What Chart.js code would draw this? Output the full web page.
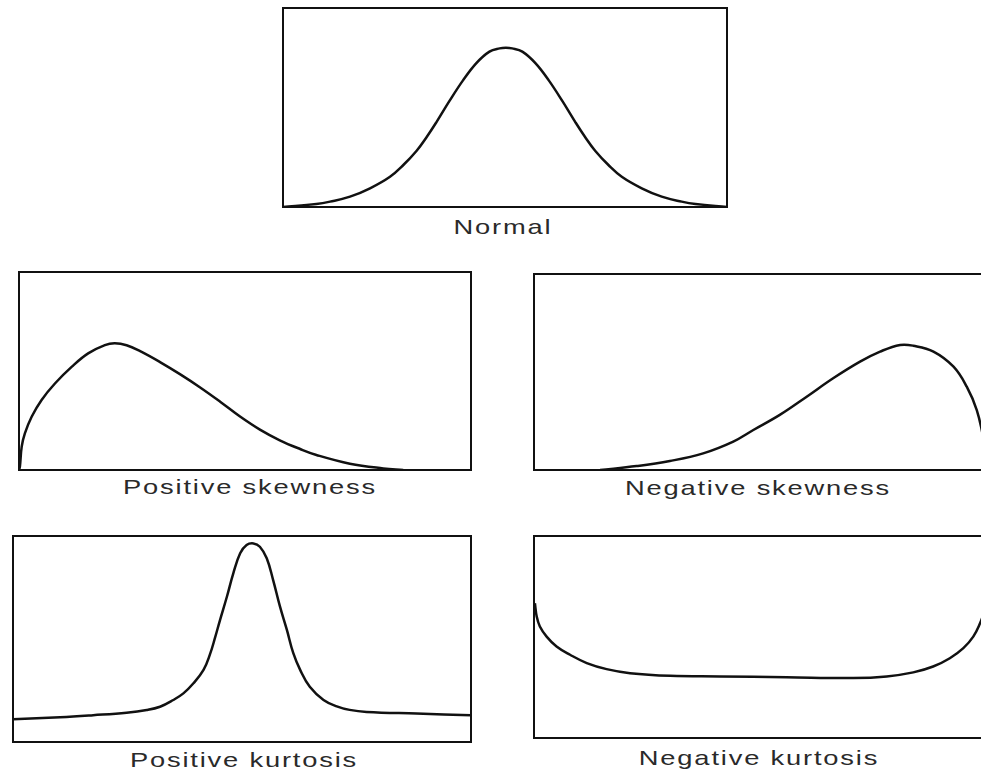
<!DOCTYPE html>
<html>
<head>
<meta charset="utf-8">
<script src="https://cdn.jsdelivr.net/npm/chart.js@4/dist/chart.umd.min.js"></script>
<style>
  html, body { margin: 0; padding: 0; background: #fff; overflow: hidden; width: 981px; height: 771px; }
  .panel { position: absolute; }
  .label {
    position: absolute; font-family: "Liberation Sans", Arial, sans-serif; font-size: 21px;
    letter-spacing: 1.4px; color: #2a2a2a; white-space: nowrap;
    transform: translate(-50%, -50%) scaleX(1.3);
  }
</style>
</head>
<body>
<script>
// Curves: x = % of box width, y = % of box height
const normalX = [0, 7.5, 10.6, 15.1, 19.6, 24.1, 27.1, 30.1, 32.4, 34.6, 37.5, 40.5, 43.5, 46.5, 48.8, 50.2, 51.6, 53.9, 56.9, 59.9, 62.9, 65.8, 68.0, 70.3, 73.3, 76.3, 80.8, 85.3, 89.8, 92.9, 100];
const normalY = [0, 1.5, 2.7, 5.2, 9.4, 15.2, 21.1, 28.3, 35.3, 42.8, 53.3, 63.5, 72.2, 78.1, 79.7, 80.0, 79.7, 78.1, 72.2, 63.5, 53.3, 42.8, 35.3, 28.3, 21.1, 15.2, 9.4, 5.2, 2.7, 1.5, 0];

const posSkewX = [0, 0.2, 0.6, 1.3, 2.8, 5.0, 8.0, 11.7, 15.3, 19.0, 21.2, 23.8, 26.8, 31.2, 35.6, 40.0, 44.5, 48.9, 53.3, 57.7, 62.2, 65.8, 73.2, 80.6, 85.0];
const posSkewY = [0, 1.7, 11.8, 18.5, 26.9, 35.4, 43.8, 52.2, 58.9, 63.1, 64.0, 63.0, 60.0, 54.5, 48.4, 41.8, 34.5, 27.0, 20.4, 15.0, 10.6, 7.6, 3.2, 0.8, 0];

const negSkewX = [14.5, 22.5, 29.8, 37.1, 43.7, 48.1, 53.9, 59.8, 65.6, 71.5, 75.9, 80.3, 83.2, 87.6, 92.0, 94.9, 97.1, 98.5, 99.6, 100];
const negSkewY = [0, 2.0, 4.6, 8.5, 14.5, 20.4, 28.1, 37.4, 46.8, 55.3, 60.4, 63.8, 63.4, 60.4, 52.7, 42.5, 30.6, 17.0, 5.1, 0];

const posKurtX = [0, 10.3, 17.5, 24.8, 29.2, 32.1, 35.0, 37.2, 39.4, 41.6, 43.0, 44.1, 45.2, 46.7, 48.1, 49.6, 51.0, 52.5, 53.9, 55.4, 56.8, 58.3, 59.8, 61.2, 62.7, 64.8, 67.8, 70.7, 73.5, 77.2, 88.1, 100];
const posKurtY = [11.0, 12.0, 13.0, 14.2, 15.5, 17.1, 20.4, 23.6, 28.5, 35.0, 42.5, 50.5, 59.2, 70.5, 81.9, 91.6, 95.6, 96.4, 94.8, 89.2, 78.6, 65.7, 54.4, 43.1, 35.0, 26.8, 20.4, 17.3, 15.6, 14.6, 13.8, 13.0];

const negKurtX = [0.2, 0.6, 1.3, 2.8, 5.0, 8.0, 11.7, 16.1, 21.3, 30.2, 41.2, 56.0, 70.8, 78.2, 84.1, 88.5, 92.2, 95.2, 97.4, 98.9, 100];
const negKurtY = [66.7, 60.1, 55.2, 50.2, 45.3, 41.2, 37.1, 34.1, 32.1, 30.8, 30.5, 30.1, 29.7, 30.5, 32.5, 35.4, 39.5, 44.5, 50.2, 56.8, 63.4];

const labels = ['Normal', 'Positive skewness', 'Negative skewness', 'Positive kurtosis', 'Negative kurtosis'];

// box placement on the page
const panels = [
  { xs: normalX,  ys: normalY,  box: [283, 8, 727, 207],  lab: [503, 227] },
  { xs: posSkewX, ys: posSkewY, box: [19, 272, 471, 470], lab: [250, 487] },
  { xs: negSkewX, ys: negSkewY, box: [534, 274, 990, 470], lab: [758, 488] },
  { xs: posKurtX, ys: posKurtY, box: [13, 536, 471, 742], lab: [244, 760] },
  { xs: negKurtX, ys: negKurtY, box: [534, 536, 985, 738], lab: [759, 758] }
];

const framePlugin = {
  id: 'frame',
  afterDraw(chart) {
    const a = chart.chartArea, ctx = chart.ctx;
    ctx.save();
    ctx.strokeStyle = '#111';
    ctx.lineWidth = 2;
    ctx.strokeRect(a.left, a.top, a.right - a.left, a.bottom - a.top);
    ctx.restore();
  }
};

const pad = 3;
panels.forEach((p, i) => {
  const [l, t, r, b] = p.box;
  const div = document.createElement('div');
  div.className = 'panel';
  div.style.left = (l - pad) + 'px';
  div.style.top = (t - pad) + 'px';
  const cv = document.createElement('canvas');
  cv.width = r - l + 2 * pad;
  cv.height = b - t + 2 * pad;
  div.appendChild(cv);
  document.body.appendChild(div);

  const lab = document.createElement('div');
  lab.className = 'label';
  lab.style.left = p.lab[0] + 'px';
  lab.style.top = p.lab[1] + 'px';
  lab.textContent = labels[i];
  document.body.appendChild(lab);

  new Chart(cv.getContext('2d'), {
    type: 'line',
    data: {
      datasets: [{
        data: p.xs.map((x, k) => ({ x: x, y: p.ys[k] })),
        borderColor: '#111',
        borderWidth: 2.5,
        pointRadius: 0,
        fill: false,
        tension: 0.4
      }]
    },
    options: {
      responsive: false,
      animation: false,
      layout: { padding: pad },
      plugins: { legend: { display: false }, tooltip: { enabled: false } },
      scales: {
        x: { type: 'linear', min: 0, max: 100, display: false },
        y: { min: 0, max: 100, display: false }
      }
    },
    plugins: [framePlugin]
  });
});
</script>
</body>
</html>
